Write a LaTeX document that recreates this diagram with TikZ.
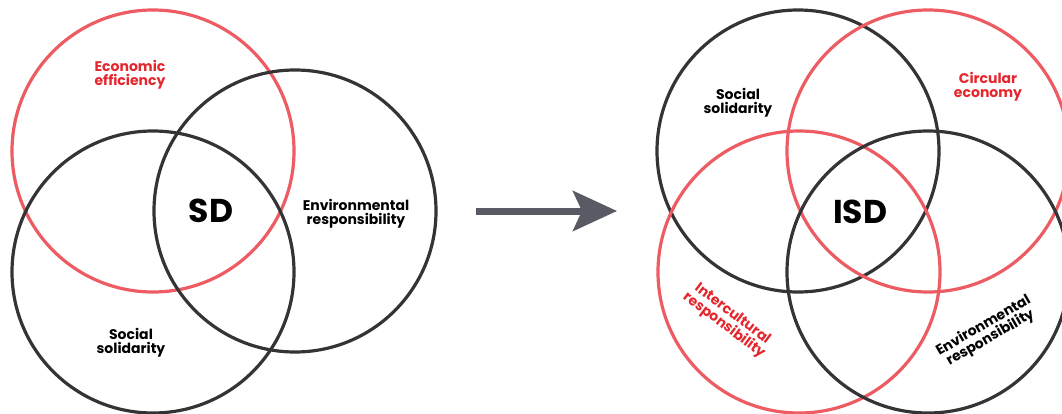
\documentclass[tikz,border=0pt]{standalone}
\usepackage{fontspec}
\setmainfont{Poppins}
\usetikzlibrary{arrows.meta}
\definecolor{ringred}{RGB}{236,92,98}
\definecolor{ringgray}{RGB}{52,52,54}
\definecolor{textred}{RGB}{228,38,45}
\definecolor{arrowgray}{RGB}{88,91,100}
\tikzstyle{ring} = [circle, draw=ringgray, line width=3.2pt, minimum size=282pt, inner sep=0pt]
\tikzstyle{redring} = [ring, draw=ringred]
\tikzstyle{tag} = [font=\bfseries\fontsize{14}{14}\selectfont, align=center, inner sep=0pt]
\tikzstyle{core} = [font=\bfseries\fontsize{33}{33}\selectfont, inner sep=0pt]
\tikzstyle{flow} = [draw=arrowgray, line width=7pt, -{Stealth[length=44pt, width=40pt, inset=9pt]}]
\begin{document}
\begin{tikzpicture}[x=1pt, y=-1pt]
        \useasboundingbox (0,0) rectangle (1062,414);
        % before: three rings
        \node [redring] (econ) at (153,151) {};
        \node [ring] (social) at (153,272) {};
        \node [ring] (envir) at (295,211) {};
        \node [tag, text=textred] (econtag) at (130,75) {Economic\\efficiency};
        \node [tag] (socialtag) at (131,343) {Social\\solidarity};
        \node [tag] (envirtag) at (356,214) {Environmental\\responsibility};
        \node [core] (sd) at (211,211) {SD};

        % transition
        \coordinate (from) at (476,211);
        \coordinate (to) at (617,211);
        \path [flow] (from) -- (to);

        % after: four rings
        \node [ring] (social2) at (798,151) {};
        \node [redring] (circ) at (928,151) {};
        \node [redring] (inter) at (799,272) {};
        \node [ring] (envir2) at (928,272) {};
        \node [tag] (social2tag) at (738,103) {Social\\solidarity};
        \node [tag, text=textred] (circtag) at (988,87) {Circular\\economy};
        \node [tag, text=textred, rotate=-37] (intertag) at (728,320) {Intercultural\\responsibility};
        \node [tag, rotate=30] (envir2tag) at (987,332) {Environmental\\responsibility};
        \node [core] (isd) at (860,212) {ISD};
    \end{tikzpicture}
\end{document}
